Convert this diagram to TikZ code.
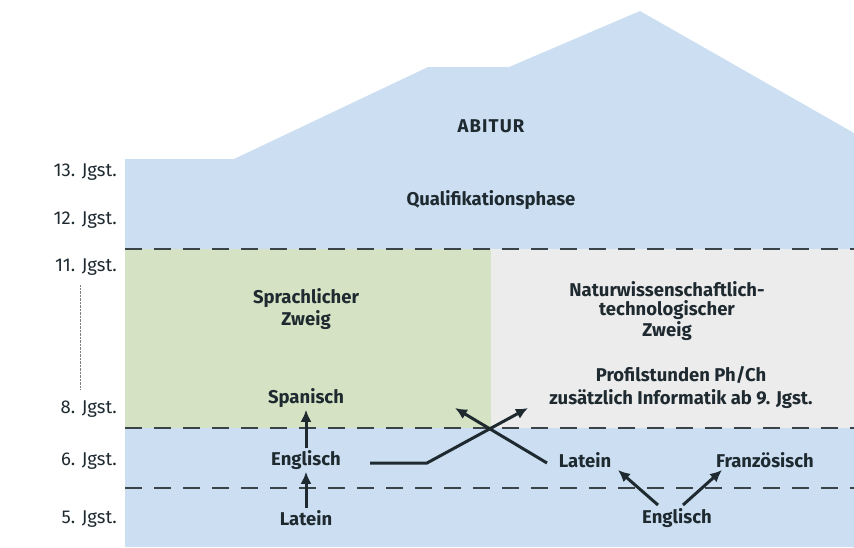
\documentclass[tikz,border=0pt]{standalone}
\usepackage{fontspec}
\setmainfont{Fira Sans}
\usetikzlibrary{arrows.meta}
\definecolor{himmel}{HTML}{CCDFF2}
\definecolor{gruen}{HTML}{D5E3C4}
\definecolor{grau}{HTML}{ECECEC}
\definecolor{strich}{HTML}{3A4448}
\definecolor{schrift}{HTML}{1E2A30}
\tikzset{
  trenn/.style={strich, line width=1.5pt, dash pattern=on 17pt off 12pt},
  fach/.style={font=\fontsize{18.5}{22}\selectfont\bfseries, text=schrift, align=center, inner sep=2pt},
  jgst/.style={font=\fontsize{18.5}{22}\selectfont, text=schrift, anchor=east, inner sep=0pt},
  pfeil/.style={line width=3pt, schrift, -{Latex[length=12pt,width=11pt]}}
}
\begin{document}
\begin{tikzpicture}[x=1pt,y=-1pt]
\useasboundingbox (0,0) rectangle (854,547);
\fill[himmel] (125,547)--(125,159)--(234,159)--(428,67)--(509,67)--(640,11)--(854,133)--(854,547)--cycle;
\fill[gruen] (125,249) rectangle (491,428);
\fill[grau] (491,249) rectangle (854,428);
\foreach \y in {249,428,488}{
\draw[trenn] (125,\y)--(854,\y);
}

% Jahrgangsstufen
\foreach \j/\y in {13/172,12/220,11/267,8/409,6/461,5/519}{
\node[jgst] (j\j) at (117,\y) {\j. Jgst.};
}
\draw[gray, densely dotted, line width=0.4pt] (80,285)--(80,390);

\node[fach, font=\fontsize{18.5}{22}\selectfont\bfseries\addfontfeatures{LetterSpace=6}] (abitur) at (491,126) {ABITUR};
\node[fach] (quali) at (491,200) {Qualifikationsphase};
\node[fach] (sprach) at (306,309) {Sprachlicher\\Zweig};
\node[fach, font=\fontsize{18.5}{19}\selectfont\bfseries] (natur) at (667,311) {Naturwissenschaftlich-\\technologischer\\Zweig};
\node[fach, font=\fontsize{18.5}{23}\selectfont\bfseries] (profil) at (681,387) {Profilstunden Ph/Ch\\zusätzlich Informatik ab 9. Jgst.};

\node[fach] (span) at (306,398) {Spanisch};
\node[fach] (englL) at (306,460) {Englisch};
\node[fach] (latL) at (306,518) {Latein};
\node[fach] (latR) at (585,460) {Latein};
\node[fach] (franz) at (765,460) {Französisch};
\node[fach] (englR) at (677,518) {Englisch};

% Pfeile
\coordinate (startL) at (370,463);
\coordinate (knick) at (427,463);
\coordinate (ziel1) at (528,408);
\coordinate (startR) at (547,463);
\coordinate (ziel2) at (455,408);
\coordinate (fussA) at (658,505);
\coordinate (fussB) at (683,505);

\draw[pfeil] (latL) -- (englL);
\draw[pfeil] (englL) -- (span);
\draw[pfeil] (startL) -- (knick) -- (ziel1);
\draw[pfeil] (startR) -- (ziel2);
\draw[pfeil] (fussA) -- (618,470);
\draw[pfeil] (fussB) -- (722,470);
\end{tikzpicture}
\end{document}
